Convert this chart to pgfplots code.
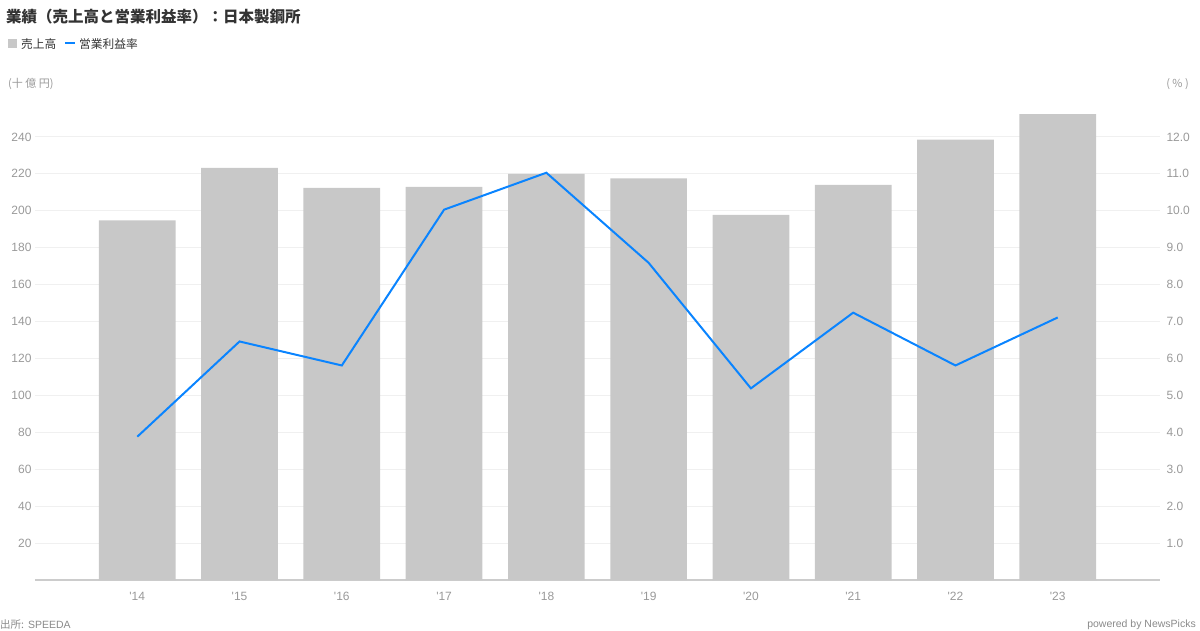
\documentclass[border=0pt]{standalone}
\usepackage{pgfplots}
\pgfplotsset{compat=1.18}
\usepackage{fontspec}
\setmainfont{Liberation Sans}
\newfontfamily\jp{Noto Sans CJK JP}
\definecolor{barc}{HTML}{C8C8C8}
\definecolor{linec}{HTML}{0A84FF}
\definecolor{tickc}{HTML}{999999}
\definecolor{gridc}{HTML}{F0F0F0}
\definecolor{titlec}{HTML}{333333}
\definecolor{axisc}{HTML}{CCCCCC}

\pgfplotstableread{
x sales margin
0 194.8 3.88
1 223.2 6.46
2 212.4 5.81
3 213.0 10.03
4 220.0 11.03
5 217.5 8.59
6 197.8 5.19
7 214.0 7.24
8 238.6 5.81
9 252.4 7.11
}\datatable

\begin{document}
\begin{tikzpicture}
\path[use as bounding box] (0pt,0pt) rectangle (1200pt,630pt);
\begin{axis}[
  at={(35pt,50pt)}, anchor=south west, scale only axis,
  width=1125pt, height=480pt,
  xmin=-1, xmax=10, ymin=0, ymax=260,
  axis x line*=bottom, axis y line*=left,
  x axis line style={draw=axisc, line width=1.5pt},
  y axis line style={draw=none},
  major tick length=0pt,
  ytick={20,40,...,240},
  xtick={0,...,9},
  xticklabels={\textquotesingle14,\textquotesingle15,\textquotesingle16,\textquotesingle17,\textquotesingle18,\textquotesingle19,\textquotesingle20,\textquotesingle21,\textquotesingle22,\textquotesingle23},
  ymajorgrids, grid style={draw=gridc, line width=1pt},
  /pgf/number format/assume math mode=true,
  ticklabel style={font=\fontsize{12}{12}\selectfont, text=tickc},
  xticklabel style={yshift=-9pt},
]
\addplot[ybar, bar width=0.75, bar shift=0pt, fill=barc, draw=none] table[x=x, y=sales] {\datatable};
\end{axis}
\begin{axis}[
  at={(35pt,50pt)}, anchor=south west, scale only axis,
  width=1125pt, height=480pt,
  xmin=-1, xmax=10, ymin=0, ymax=13,
  axis x line=none, axis y line*=right,
  y axis line style={draw=none},
  major tick length=0pt,
  ytick={1,...,12},
  /pgf/number format/assume math mode=true,
  yticklabel={\pgfmathprintnumber[fixed,fixed zerofill,precision=1]{\tick}},
  ticklabel style={font=\fontsize{12}{12}\selectfont, text=tickc},
  yticklabel style={xshift=3pt},
]
\addplot[color=linec, line width=2pt, mark=none] table[x=x, y=margin] {\datatable};
\end{axis}
% title & legend
\node[anchor=west, text=titlec, inner sep=0pt, font=\jp\bfseries\fontsize{15.5}{15.5}\selectfont] at (6pt,613pt) {業績（売上高と営業利益率）：日本製鋼所};
\fill[barc] (8pt,582pt) rectangle (17pt,591pt);
\node[anchor=west, text=titlec, inner sep=0pt, font=\jp\fontsize{11.7}{11.7}\selectfont] at (21pt,586pt) {売上高};
\draw[linec, line width=2pt] (65pt,586.5pt) -- (75pt,586.5pt);
\node[anchor=west, text=titlec, inner sep=0pt, font=\jp\fontsize{11.7}{11.7}\selectfont] at (79pt,586pt) {営業利益率};
% units
\node[anchor=west, text=tickc, inner sep=0pt, font=\jp\fontsize{11}{11}\selectfont] at (8pt,546pt) {(十 億 円)};
\node[anchor=east, text=tickc, inner sep=0pt, font=\jp\fontsize{11}{11}\selectfont] at (1189pt,546pt) {( \% )};
% footer
\node[anchor=west, text=tickc!90!black, inner sep=0pt, font=\fontsize{10.5}{10.5}\selectfont] at (0pt,5pt) {{\jp 出所:} SPEEDA};
\node[anchor=east, text=tickc!90!black, inner sep=0pt, font=\fontsize{10.5}{10.5}\selectfont] at (1196pt,5pt) {powered by NewsPicks};
\end{tikzpicture}
\end{document}
